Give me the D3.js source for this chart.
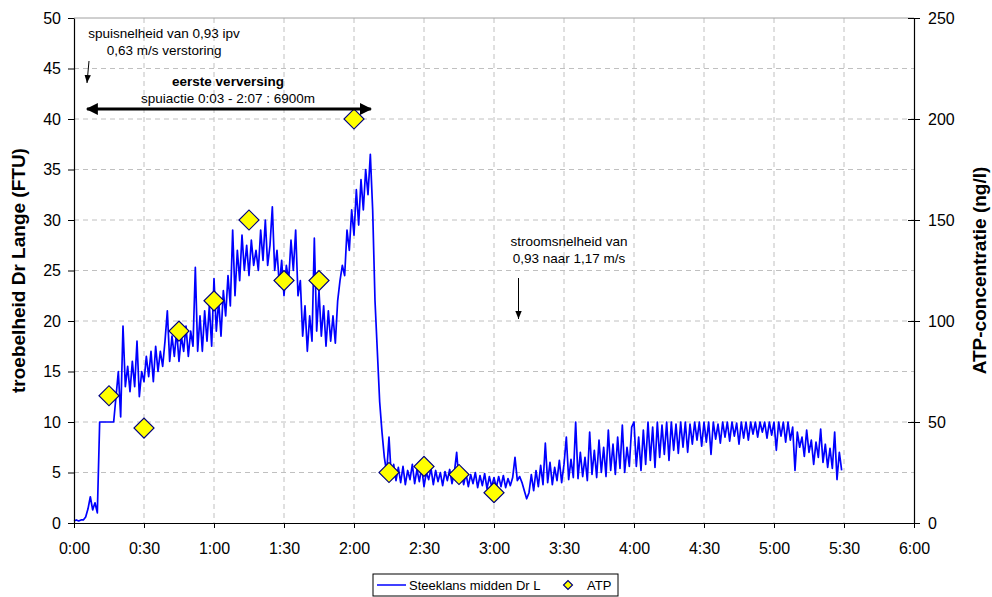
<!DOCTYPE html>
<html>
<head>
<meta charset="utf-8">
<script src="https://cdn.jsdelivr.net/npm/d3@7"></script>
<style>
  body { margin: 0; background: #fff; }
  svg { font-family: "Liberation Sans", Arial, sans-serif; }
  .axis path, .axis line { stroke: #000; }
  .axis text { font-size: 16px; fill: #000; font-family: "Liberation Sans", Arial, sans-serif; }
  .grid line { stroke: #c0c0c0; stroke-dasharray: 5,4; }
  .note { font-size: 13.5px; fill: #000; }
</style>
</head>
<body>
<svg id="chart"></svg>
<script>
// Turbidity (FTU), one reading per minute from 0:00
const turbidity = [
  0.2, 0.3, 0.2, 0.3, 0.3, 0.6, 1.4, 2.6, 1.3, 2.0,
  1.0, 10, 10, 10, 10, 10, 10, 10, 12.5, 15,
  10.5, 19.5, 13.5, 15.5, 13, 16, 13.5, 18, 12.5, 15,
  14, 16.5, 14.5, 17, 14, 17.5, 15, 17, 15.5, 18,
  21, 16, 18.5, 16.5, 19, 16, 18.5, 17, 19.5, 16.5,
  19, 17.5, 25.3, 17, 20.5, 17, 21, 18, 21.5, 17.5,
  24.2, 19, 22, 18.5, 23, 20.5, 24.5, 21.5, 29, 22.5,
  27, 24, 28.5, 25, 27.5, 24.5, 28, 25.5, 27, 25,
  29, 26, 30, 25.5, 27.5, 31.3, 25, 27, 23.5, 26,
  22.5, 25.5, 24, 28, 25, 29, 22.5, 24, 18.5, 21.5,
  17, 20.5, 18, 28.2, 19, 23, 18.5, 21.5, 17.5, 21,
  18, 20.5, 17.8, 22, 24, 25.5, 24.5, 29, 27, 31,
  28.5, 33, 29.5, 34, 31, 35, 32.5, 36.5, 31, 22,
  17, 12, 9, 6.5, 5, 8.5, 4.5, 5.8, 4.2, 5.5,
  4, 5.6, 3.8, 5.2, 4.3, 5.8, 3.9, 5.3, 4.1, 5.5,
  3.6, 5, 4.3, 5.4, 3.8, 5.2, 4.1, 5, 3.7, 5.1,
  4.2, 5.3, 3.9, 5, 7, 4, 5.1, 3.8, 4.9, 3.6,
  4.8, 3.9, 5, 3.5, 4.7, 3.7, 4.9, 3.4, 4.6, 3.6,
  4.5, 3.5, 4.6, 3.6, 4.7, 3.5, 4.4, 3.7, 4.5, 6.5,
  4.2, 4.6, 4, 3.2, 2.4, 3, 4.8, 3.2, 5.2, 3.6,
  5.7, 3.8, 7.9, 4, 6, 3.8, 5.5, 4.2, 6.2, 4,
  5.8, 8.5, 4.3, 6.3, 4.5, 10, 4.4, 7, 4.6, 6.5,
  4.2, 9, 4.8, 7.2, 4.5, 8.2, 5, 7.5, 4.6, 9.2,
  5.2, 7.8, 4.8, 8.5, 5.4, 9.7, 5, 7.5, 5.6, 9.5,
  10, 5.6, 8.5, 5.2, 9.2, 5.8, 10, 6.2, 9.5, 5.5,
  10, 6.5, 9.7, 6.8, 10, 6.2, 10, 7.2, 9.8, 6.9,
  10, 7.5, 10, 7, 9.8, 7.8, 10, 8.2, 10, 7.6,
  10, 8, 10, 6.8, 10, 8.3, 9.8, 7.9, 10, 8.5,
  10, 8.1, 10, 8.6, 9.9, 7.8, 10, 8.4, 10, 8.2,
  10, 8.8, 10, 8.5, 10, 9, 10, 8.4, 10, 8.7,
  10, 7.2, 10, 8.6, 10, 8, 10, 8.2, 9.5, 5.2,
  9, 7.5, 8.5, 6.6, 9.2, 7, 8.2, 5.8, 8, 6.5,
  9.3, 6, 7.8, 5.5, 7.4, 5.4, 9, 4.3, 7, 5.2
];

// ATP samples (ng/l)
const atpTimes = ["0:15", "0:30", "0:45", "1:00", "1:15", "1:30", "1:45", "2:00", "2:15", "2:30", "2:45", "3:00"];
const atpValues = [63, 47, 95, 110, 150, 120, 120, 200, 25, 28, 24, 15];

// Axis ticks
const xTicks = [0, 30, 60, 90, 120, 150, 180, 210, 240, 270, 300, 330, 360];
const leftTicks = [0, 5, 10, 15, 20, 25, 30, 35, 40, 45, 50];
const rightTicks = [0, 50, 100, 150, 200, 250];

const seriesNames = ["Steeklans midden Dr L", "ATP"];

const toMinutes = s => { const p = s.split(":"); return +p[0] * 60 + +p[1]; };
const fmtTime = m => `${Math.floor(m / 60)}:${String(m % 60).padStart(2, "0")}`;

const width = 992, height = 597;
const plot = {left: 74, right: 914, top: 18, bottom: 523};

const svg = d3.select("#chart")
    .attr("width", width)
    .attr("height", height);

const x = d3.scaleLinear().domain([0, 360]).range([plot.left, plot.right]);
const yL = d3.scaleLinear().domain([0, 50]).range([plot.bottom, plot.top]);
const yR = d3.scaleLinear().domain([0, 250]).range([plot.bottom, plot.top]);

// Grid
const grid = svg.append("g").attr("class", "grid");
grid.selectAll(".hgrid")
    .data(leftTicks.filter(d => d > 0 && d < 50))
  .join("line")
    .attr("x1", plot.left).attr("x2", plot.right)
    .attr("y1", d => yL(d)).attr("y2", d => yL(d));
grid.selectAll(".vgrid")
    .data(xTicks.filter(d => d > 0 && d < 360))
  .join("line")
    .attr("x1", d => x(d)).attr("x2", d => x(d))
    .attr("y1", plot.top).attr("y2", plot.bottom);

// top border
svg.append("line")
    .attr("x1", plot.left).attr("x2", plot.right)
    .attr("y1", plot.top).attr("y2", plot.top)
    .attr("stroke", "#a0a0a0");

// Turbidity line
const line = d3.line()
    .x((d, i) => x(i))
    .y(d => yL(d));

svg.append("path")
    .datum(turbidity)
    .attr("fill", "none")
    .attr("stroke", "#0000ff")
    .attr("stroke-width", 1.7)
    .attr("stroke-linejoin", "round")
    .attr("d", line);

// ATP markers
const diamond = d3.symbol().type(d3.symbolSquare).size(200);
svg.selectAll(".atp")
    .data(atpTimes.map((t, i) => ({t: toMinutes(t), v: atpValues[i]})))
  .join("path")
    .attr("class", "atp")
    .attr("d", diamond)
    .attr("transform", d => `translate(${x(d.t)},${yR(d.v)}) rotate(45)`)
    .attr("fill", "#ffff00")
    .attr("stroke", "#000080")
    .attr("stroke-width", 1.2);

// Axes
const xAxis = d3.axisBottom(x).tickValues(xTicks).tickFormat(fmtTime)
    .tickSize(5).tickSizeOuter(0).tickPadding(15);
svg.append("g").attr("class", "axis")
    .attr("transform", `translate(0,${plot.bottom})`)
    .call(xAxis);

const yAxisL = d3.axisLeft(yL).tickValues(leftTicks)
    .tickSize(6).tickSizeOuter(0).tickPadding(7);
svg.append("g").attr("class", "axis")
    .attr("transform", `translate(${plot.left},0)`)
    .call(yAxisL);

const yAxisR = d3.axisRight(yR).tickValues(rightTicks)
    .tickSize(6).tickSizeOuter(0).tickPadding(8);
const gR = svg.append("g").attr("class", "axis")
    .attr("transform", `translate(${plot.right},0)`)
    .call(yAxisR);
gR.selectAll(".tick line").attr("x1", -6);

svg.selectAll(".axis .domain").attr("stroke-width", 1.2);

// Axis titles
svg.append("text")
    .attr("transform", `translate(25,${(plot.top + plot.bottom) / 2}) rotate(-90)`)
    .attr("text-anchor", "middle")
    .style("font-size", "19px").style("font-weight", "bold")
    .text("troebelheid Dr Lange (FTU)");

svg.append("text")
    .attr("transform", `translate(986,${(plot.top + plot.bottom) / 2}) rotate(-90)`)
    .attr("text-anchor", "middle")
    .style("font-size", "19px").style("font-weight", "bold")
    .text("ATP-concentratie (ng/l)");

// Arrow markers
const defs = svg.append("defs");
defs.append("marker")
    .attr("id", "headThin")
    .attr("viewBox", "0 0 10 10").attr("refX", 10).attr("refY", 5)
    .attr("markerWidth", 8).attr("markerHeight", 8).attr("markerUnits", "userSpaceOnUse")
    .attr("orient", "auto-start-reverse")
  .append("path").attr("d", "M0,1 L10,5 L0,9 Z").attr("fill", "#000");
defs.append("marker")
    .attr("id", "headThick")
    .attr("viewBox", "0 0 10 10").attr("refX", 9).attr("refY", 5)
    .attr("markerWidth", 14).attr("markerHeight", 12).attr("markerUnits", "userSpaceOnUse")
    .attr("orient", "auto-start-reverse")
  .append("path").attr("d", "M0,0 L10,5 L0,10 Z").attr("fill", "#000");

// Annotations
const note1 = svg.append("text").attr("class", "note").attr("text-anchor", "middle");
note1.append("tspan").attr("x", x(38.6)).attr("y", 37.5).text("spuisnelheid van 0,93 ipv");
note1.append("tspan").attr("x", x(38.6)).attr("y", 55).text("0,63 m/s verstoring");
svg.append("line")
    .attr("x1", 89).attr("y1", 61).attr("x2", 87).attr("y2", 83)
    .attr("stroke", "#000").attr("stroke-width", 1)
    .attr("marker-end", "url(#headThin)");

svg.append("text").attr("class", "note")
    .attr("x", x(66)).attr("y", 86).attr("text-anchor", "middle")
    .style("font-weight", "bold")
    .text("eerste verversing");
svg.append("text").attr("class", "note")
    .attr("x", x(66)).attr("y", 102.5).attr("text-anchor", "middle")
    .text("spuiactie 0:03 - 2:07 : 6900m");
svg.append("line")
    .attr("x1", x(5.6)).attr("x2", x(127.2))
    .attr("y1", 109).attr("y2", 109)
    .attr("stroke", "#000").attr("stroke-width", 3)
    .attr("marker-start", "url(#headThick)")
    .attr("marker-end", "url(#headThick)");

const note2 = svg.append("text").attr("class", "note").attr("text-anchor", "middle");
note2.append("tspan").attr("x", 569).attr("y", 246).text("stroomsnelheid van");
note2.append("tspan").attr("x", 569).attr("y", 263).text("0,93 naar 1,17 m/s");
svg.append("line")
    .attr("x1", 518.5).attr("y1", 278).attr("x2", 518.5).attr("y2", 319)
    .attr("stroke", "#000").attr("stroke-width", 1)
    .attr("marker-end", "url(#headThin)");

// Legend
const legend = svg.append("g").attr("transform", "translate(373,574)");
legend.append("rect")
    .attr("width", 245).attr("height", 22)
    .attr("fill", "#fff").attr("stroke", "#000");
legend.append("line")
    .attr("x1", 4).attr("x2", 33).attr("y1", 11).attr("y2", 11)
    .attr("stroke", "#0000ff").attr("stroke-width", 1.5);
legend.append("text")
    .attr("x", 36).attr("y", 16)
    .style("font-size", "13px")
    .text(seriesNames[0]);
legend.append("path")
    .attr("d", d3.symbol().type(d3.symbolSquare).size(40))
    .attr("transform", "translate(195,11) rotate(45)")
    .attr("fill", "#ffff00").attr("stroke", "#000080").attr("stroke-width", 1.2);
legend.append("text")
    .attr("x", 214).attr("y", 16)
    .style("font-size", "13px")
    .text(seriesNames[1]);
</script>
</body>
</html>
